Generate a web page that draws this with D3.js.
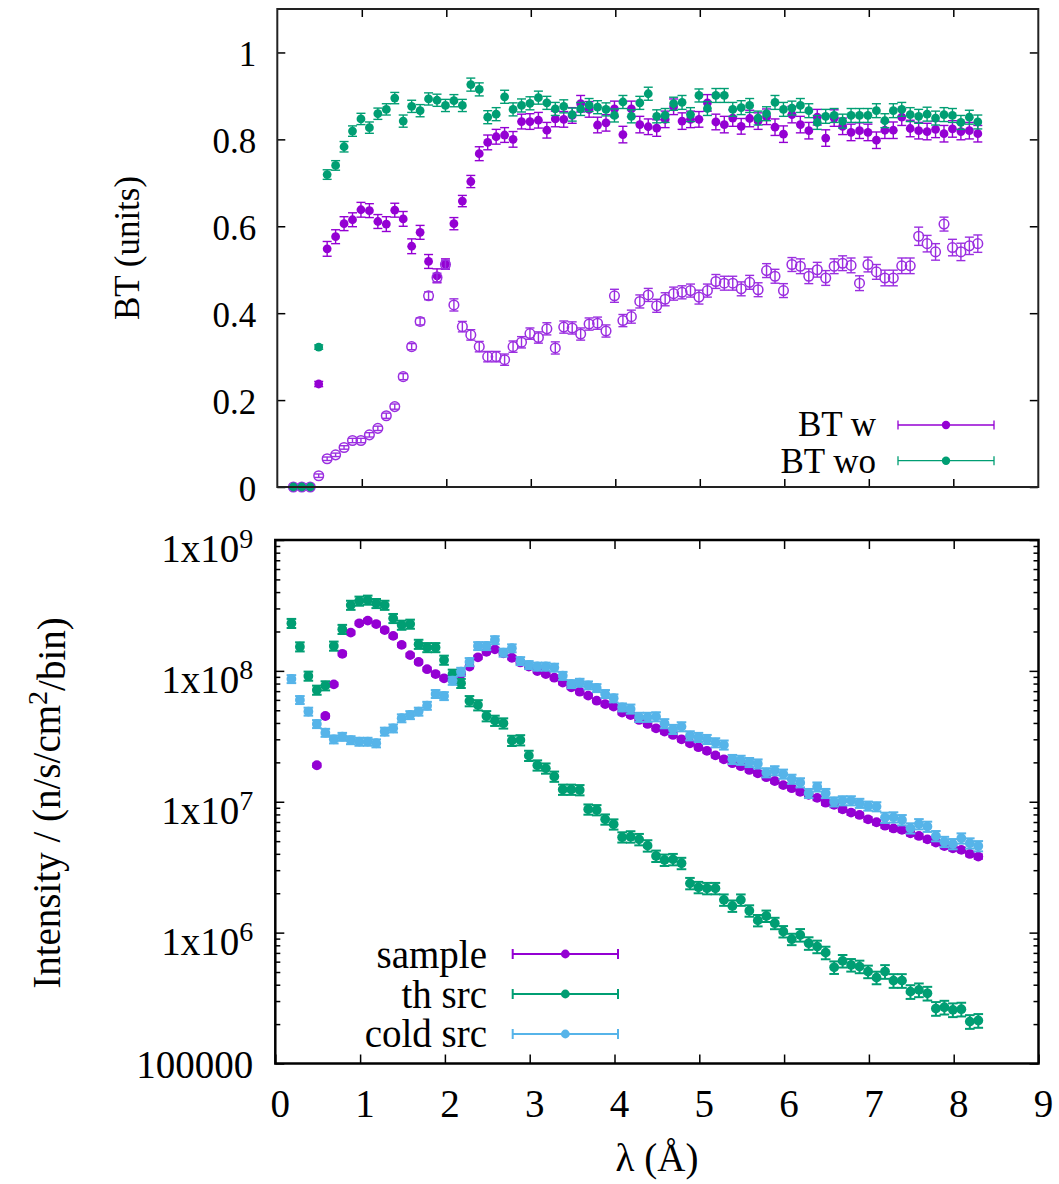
<!DOCTYPE html>
<html><head><meta charset="utf-8">
<script src="https://cdn.jsdelivr.net/npm/d3@7"></script>
<style>
body{margin:0;background:#fff}
svg{display:block}
text{font-family:"Liberation Serif","Times New Roman",serif;fill:#000}
</style>
</head><body>
<svg id="c" width="1059" height="1184"></svg>
<script>
// ---------------- DATA ----------------
const lambda = [
 0.19,0.29,0.39,0.49,0.59,0.69,0.79,0.89,0.99,1.09,
 1.19,1.29,1.39,1.49,1.59,1.69,1.79,1.89,1.99,2.09,
 2.19,2.29,2.39,2.49,2.59,2.69,2.79,2.89,2.99,3.09,
 3.19,3.29,3.39,3.49,3.59,3.69,3.79,3.89,3.99,4.09,
 4.19,4.29,4.39,4.49,4.59,4.69,4.79,4.89,4.99,5.09,
 5.19,5.29,5.39,5.49,5.59,5.69,5.79,5.89,5.99,6.09,
 6.19,6.29,6.39,6.49,6.59,6.69,6.79,6.89,6.99,7.09,
 7.19,7.29,7.39,7.49,7.59,7.69,7.79,7.89,7.99,8.09,
 8.19,8.29];

// Top panel: BT with (filled), BT with (open circles, untitled), BT without
const btW = [
 0,0,0,0.237,0.548,0.576,0.606,0.615,0.638,0.636,
 0.611,0.605,0.637,0.617,0.554,0.586,0.519,0.486,0.513,0.606,
 0.658,0.703,0.767,0.793,0.806,0.810,0.800,0.841,0.841,0.844,
 0.821,0.847,0.846,0.855,0.882,0.869,0.833,0.838,0.870,0.811,
 0.870,0.834,0.829,0.826,0.846,0.875,0.842,0.846,0.846,0.884,
 0.840,0.834,0.849,0.830,0.848,0.842,0.852,0.828,0.812,0.857,
 0.834,0.820,0.851,0.803,0.849,0.830,0.816,0.820,0.816,0.798,
 0.821,0.821,0.851,0.825,0.820,0.818,0.823,0.813,0.824,0.818,
 0.820,0.813];
const btWErr = [
 0,0,0,0.006,0.017,0.016,0.016,0.016,0.017,0.016,
 0.016,0.017,0.016,0.017,0.017,0.016,0.016,0.016,0.012,0.014,
 0.013,0.014,0.016,0.017,0.017,0.017,0.018,0.017,0.018,0.018,
 0.018,0.018,0.018,0.018,0.019,0.018,0.018,0.019,0.018,0.019,
 0.018,0.019,0.018,0.019,0.019,0.018,0.019,0.019,0.018,0.019,
 0.018,0.019,0.019,0.018,0.019,0.019,0.018,0.019,0.019,0.019,
 0.019,0.019,0.018,0.019,0.019,0.019,0.019,0.018,0.019,0.019,
 0.019,0.019,0.019,0.019,0.019,0.019,0.019,0.019,0.019,0.019,
 0.019,0.019];
const btWOpen = [
 0,0,0,0.026,0.065,0.074,0.091,0.107,0.107,0.120,
 0.135,0.164,0.185,0.254,0.323,0.381,0.440,0.482,0.512,0.419,
 0.369,0.350,0.323,0.300,0.300,0.293,0.323,0.333,0.353,0.344,
 0.364,0.320,0.368,0.366,0.352,0.375,0.377,0.359,0.440,0.383,
 0.392,0.427,0.442,0.417,0.432,0.445,0.448,0.452,0.437,0.452,
 0.473,0.469,0.469,0.456,0.471,0.454,0.498,0.485,0.452,0.512,
 0.508,0.485,0.500,0.481,0.508,0.515,0.510,0.469,0.512,0.495,
 0.481,0.481,0.509,0.509,0.577,0.560,0.541,0.605,0.551,0.541,
 0.555,0.560];
const btWOpenErr = [
 0,0,0,0.004,0.004,0.004,0.004,0.005,0.005,0.005,
 0.005,0.006,0.006,0.007,0.007,0.008,0.009,0.010,0.010,0.014,
 0.012,0.012,0.012,0.012,0.012,0.013,0.013,0.013,0.013,0.013,
 0.014,0.014,0.014,0.014,0.014,0.014,0.014,0.014,0.015,0.014,
 0.015,0.015,0.015,0.015,0.015,0.015,0.015,0.015,0.016,0.015,
 0.016,0.016,0.016,0.016,0.016,0.016,0.016,0.016,0.016,0.016,
 0.017,0.017,0.017,0.017,0.017,0.017,0.017,0.017,0.017,0.017,
 0.018,0.018,0.018,0.018,0.021,0.019,0.019,0.016,0.019,0.020,
 0.020,0.020];
const btWO = [
 0,0,0,0.322,0.719,0.740,0.783,0.819,0.847,0.827,
 0.859,0.869,0.895,0.842,0.876,0.866,0.893,0.890,0.878,0.889,
 0.878,0.926,0.915,0.851,0.858,0.898,0.869,0.878,0.883,0.896,
 0.884,0.870,0.876,0.857,0.870,0.879,0.874,0.869,0.855,0.886,
 0.853,0.884,0.905,0.853,0.855,0.882,0.885,0.857,0.901,0.871,
 0.901,0.901,0.869,0.873,0.878,0.849,0.859,0.885,0.869,0.872,
 0.878,0.866,0.839,0.853,0.855,0.842,0.855,0.855,0.855,0.866,
 0.843,0.866,0.869,0.857,0.853,0.858,0.849,0.857,0.855,0.839,
 0.851,0.840];
const btWOErr = [
 0,0,0,0.005,0.011,0.011,0.012,0.012,0.013,0.013,
 0.013,0.013,0.013,0.014,0.014,0.014,0.014,0.014,0.014,0.014,
 0.014,0.015,0.015,0.015,0.015,0.015,0.015,0.015,0.015,0.015,
 0.015,0.015,0.015,0.015,0.015,0.015,0.015,0.015,0.015,0.015,
 0.015,0.015,0.015,0.015,0.016,0.015,0.016,0.016,0.015,0.016,
 0.016,0.016,0.016,0.016,0.016,0.016,0.016,0.016,0.016,0.016,
 0.016,0.016,0.016,0.016,0.016,0.016,0.016,0.016,0.016,0.016,
 0.016,0.016,0.016,0.016,0.016,0.016,0.016,0.016,0.016,0.016,
 0.016,0.016];

// Bottom panel: intensities (n/s/cm^2/bin)
const sample = [
 null,null,null,1.90e7,4.52e7,7.89e7,1.35e8,1.96e8,2.31e8,2.42e8,
 2.28e8,2.05e8,1.85e8,1.58e8,1.32e8,1.17e8,1.03e8,9.46e7,8.77e7,8.95e7,
 9.46e7,1.08e8,1.27e8,1.40e8,1.46e8,1.36e8,1.26e8,1.16e8,1.08e8,9.98e7,
 9.46e7,8.87e7,8.13e7,7.50e7,6.93e7,6.47e7,5.92e7,5.58e7,5.33e7,4.80e7,
 4.60e7,4.22e7,3.93e7,3.64e7,3.44e7,3.24e7,3.00e7,2.80e7,2.61e7,2.45e7,
 2.26e7,2.11e7,1.97e7,1.87e7,1.75e7,1.65e7,1.54e7,1.44e7,1.34e7,1.27e7,
 1.19e7,1.13e7,1.07e7,9.84e6,9.46e6,8.75e6,8.26e6,7.93e6,7.34e6,6.97e6,
 6.56e6,6.25e6,6.10e6,5.74e6,5.48e6,5.16e6,4.88e6,4.59e6,4.41e6,4.29e6,
 3.99e6,3.81e6];
const sampleRelErr = [
 0,0,0,0.03,0.03,0.03,0.03,0.03,0.03,0.03,
 0.03,0.03,0.03,0.03,0.03,0.03,0.03,0.03,0.03,0.03,
 0.03,0.03,0.03,0.03,0.03,0.03,0.03,0.03,0.03,0.03,
 0.03,0.03,0.03,0.03,0.03,0.03,0.03,0.03,0.03,0.03,
 0.035,0.035,0.035,0.035,0.035,0.035,0.035,0.035,0.035,0.035,
 0.035,0.035,0.035,0.035,0.035,0.035,0.035,0.035,0.035,0.035,
 0.04,0.04,0.04,0.04,0.04,0.04,0.04,0.04,0.04,0.04,
 0.04,0.04,0.04,0.04,0.04,0.04,0.04,0.04,0.04,0.04,
 0.04,0.04];
const thSrc = [
 2.31e8,1.53e8,9.14e7,7.14e7,7.71e7,1.55e8,2.08e8,3.18e8,3.42e8,3.48e8,
 3.28e8,3.18e8,2.52e8,2.24e8,2.28e8,1.60e8,1.51e8,1.51e8,1.21e8,9.46e7,
 8.04e7,5.89e7,5.48e7,4.52e7,4.17e7,3.98e7,2.93e7,2.96e7,2.25e7,1.90e7,
 1.80e7,1.56e7,1.24e7,1.24e7,1.23e7,8.75e6,8.65e6,7.34e6,6.73e6,5.36e6,
 5.41e6,5.16e6,4.62e6,3.85e6,3.59e6,3.63e6,3.39e6,2.38e6,2.22e6,2.18e6,
 2.18e6,1.78e6,1.60e6,1.78e6,1.47e6,1.24e6,1.34e6,1.18e6,1.02e6,8.91e5,
 9.59e5,8.30e5,7.82e5,7.03e5,5.43e5,6.08e5,5.66e5,5.50e5,5.04e5,4.53e5,
 5.04e5,4.30e5,4.30e5,3.54e5,3.65e5,3.44e5,2.63e5,2.69e5,2.57e5,2.60e5,
 2.09e5,2.13e5];
const thRelErr = [
 0.08,0.08,0.08,0.08,0.08,0.08,0.08,0.08,0.08,0.08,
 0.08,0.08,0.08,0.08,0.08,0.08,0.08,0.08,0.08,0.08,
 0.08,0.09,0.09,0.09,0.09,0.09,0.09,0.09,0.09,0.09,
 0.09,0.09,0.09,0.09,0.09,0.09,0.09,0.09,0.09,0.09,
 0.10,0.10,0.10,0.10,0.10,0.10,0.10,0.10,0.10,0.10,
 0.10,0.10,0.10,0.10,0.10,0.10,0.10,0.10,0.10,0.10,
 0.11,0.11,0.11,0.11,0.11,0.11,0.11,0.11,0.11,0.11,
 0.12,0.12,0.12,0.12,0.12,0.12,0.12,0.12,0.12,0.12,
 0.12,0.12];
const coldSrc = [
 8.67e7,6.00e7,4.89e7,3.93e7,3.37e7,3.00e7,3.14e7,2.96e7,2.88e7,2.88e7,
 2.80e7,3.44e7,3.64e7,4.35e7,4.60e7,4.89e7,5.42e7,6.67e7,6.43e7,8.41e7,
 9.86e7,1.17e8,1.55e8,1.55e8,1.72e8,1.38e8,1.49e8,1.19e8,1.11e8,1.08e8,
 1.08e8,1.06e8,9.18e7,7.94e7,8.13e7,7.76e7,7.40e7,6.67e7,6.18e7,5.27e7,
 5.12e7,4.43e7,4.43e7,4.47e7,3.96e7,3.58e7,3.75e7,3.20e7,3.11e7,3.00e7,
 2.83e7,2.72e7,2.11e7,2.08e7,2.00e7,1.95e7,1.67e7,1.73e7,1.63e7,1.49e7,
 1.40e7,1.16e7,1.30e7,1.16e7,1.00e7,1.02e7,1.02e7,9.75e6,9.29e6,9.18e6,
 7.57e6,7.62e6,7.26e6,6.28e6,6.76e6,6.46e6,5.48e6,4.95e6,4.76e6,5.26e6,
 4.82e6,4.59e6];
const coldRelErr = [
 0.07,0.07,0.07,0.07,0.07,0.07,0.07,0.07,0.07,0.07,
 0.07,0.07,0.07,0.07,0.07,0.07,0.07,0.07,0.07,0.07,
 0.07,0.07,0.07,0.07,0.07,0.07,0.07,0.07,0.07,0.07,
 0.07,0.07,0.07,0.07,0.07,0.07,0.07,0.07,0.07,0.07,
 0.08,0.08,0.08,0.08,0.08,0.08,0.08,0.08,0.08,0.08,
 0.08,0.08,0.08,0.08,0.08,0.08,0.08,0.08,0.08,0.08,
 0.08,0.08,0.08,0.08,0.08,0.08,0.08,0.08,0.08,0.08,
 0.09,0.09,0.09,0.09,0.09,0.09,0.09,0.09,0.09,0.09,
 0.09,0.09];

const xTicks = [0,1,2,3,4,5,6,7,8,9];
const yTopTicks = [0,0.2,0.4,0.6,0.8,1];
const yBotTicks = [1e5,1e6,1e7,1e8,1e9];
const yBotLabels = [["100000",""],["1x10","6"],["1x10","7"],["1x10","8"],["1x10","9"]];
const legendTop = ["BT w","BT wo"];
const legendBot = ["sample","th src","cold src"];
const xLabel = "λ (Å)";
const yLabelTop = "BT (units)";

// ---------------- DRAW ----------------
const PURPLE="#9400d3", GREEN="#009e73", BLUE="#56b4e9", OPEN="#9b2ee0";
const FONT = "Liberation Serif, Times New Roman, serif";
const svg = d3.select("#c");
svg.append("rect").attr("width",1059).attr("height",1184).attr("fill","#fff");

const xT = d3.scaleLinear().domain([0,9]).range([277.3,1037.8]);
const yT = d3.scaleLinear().domain([0,1.1]).range([487,9]);
const xB = d3.scaleLinear().domain([0,9]).range([275.3,1038.5]);
const yB = d3.scaleLog().domain([1e5,1e9]).range([1063.5,540]);

function styleAxis(g, fs){
  g.attr("font-size",fs).attr("font-family",FONT);
  g.select(".domain").remove();
  g.selectAll(".tick line").attr("stroke","#000").attr("stroke-width",1.5);
  g.selectAll(".tick text").attr("fill","#000");
}

// ---- Top panel axes
const gT = svg.append("g");
gT.append("g").attr("transform",`translate(${xT.range()[0]},0)`)
  .call(d3.axisLeft(yT).tickValues(yTopTicks).tickSize(-8).tickPadding(21).tickFormat(d3.format("~g")))
  .call(styleAxis,35)
  .call(g=>g.selectAll(".tick text").attr("dy","0.38em"));
gT.append("g").attr("transform",`translate(${xT.range()[1]},0)`)
  .call(d3.axisRight(yT).tickValues(yTopTicks).tickSize(-8).tickFormat(()=>""))
  .call(styleAxis,35);
gT.append("g").attr("transform",`translate(0,${yT.range()[0]})`)
  .call(d3.axisBottom(xT).tickValues(xTicks.slice(1,9)).tickSize(-8).tickFormat(()=>""))
  .call(styleAxis,35);
gT.append("g").attr("transform",`translate(0,${yT.range()[1]})`)
  .call(d3.axisTop(xT).tickValues(xTicks.slice(1,9)).tickSize(-8).tickFormat(()=>""))
  .call(styleAxis,35);

// ---- Bottom panel axes
const minorB = [];
for (let i=0;i<yBotTicks.length-1;i++) for (let k=2;k<=9;k++) minorB.push(yBotTicks[i]*k);
const gB = svg.append("g");
gB.append("g").attr("transform",`translate(${xB.range()[0]},0)`)
  .call(d3.axisLeft(yB).tickValues(yBotTicks).tickSize(-9).tickPadding(22).tickFormat(()=>""))
  .call(styleAxis,39)
  .call(g=>g.selectAll(".tick text").each(function(d,i){
      const lab = yBotLabels[i];
      const t = d3.select(this).text(null).attr("dy", lab[1] ? "0.55em" : "0.36em");
      t.append("tspan").text(lab[0]);
      if (lab[1]) t.append("tspan").attr("dy","-0.5em").attr("font-size","0.72em").text(lab[1]);
  }));
gB.append("g").attr("transform",`translate(${xB.range()[0]},0)`)
  .call(d3.axisLeft(yB).tickValues(minorB).tickSize(-5).tickFormat(()=>""))
  .call(styleAxis,39);
gB.append("g").attr("transform",`translate(${xB.range()[1]},0)`)
  .call(d3.axisRight(yB).tickValues(yBotTicks).tickSize(-9).tickFormat(()=>""))
  .call(styleAxis,39);
gB.append("g").attr("transform",`translate(${xB.range()[1]},0)`)
  .call(d3.axisRight(yB).tickValues(minorB).tickSize(-5).tickFormat(()=>""))
  .call(styleAxis,39);
gB.append("g").attr("transform",`translate(0,${yB.range()[0]})`)
  .call(d3.axisBottom(xB).tickValues(xTicks).tickSize(-9).tickPadding(26).tickFormat(d3.format("d")))
  .call(styleAxis,39)
  .call(g=>g.selectAll(".tick text").attr("x",4.5));
gB.append("g").attr("transform",`translate(0,${yB.range()[1]})`)
  .call(d3.axisTop(xB).tickValues(xTicks.slice(1,9)).tickSize(-9).tickFormat(()=>""))
  .call(styleAxis,39);

// ---- Series drawing
function drawSeries(g, xs, ys, ylo, yhi, xScale, yScale, color, filled, r, capHalf, lw){
  const s = g.append("g");
  xs.forEach((x,i)=>{
    const v = ys[i];
    if (v===null || v===undefined) return;
    const cx = xScale(x), cy = yScale(v);
    const lo = ylo[i], hi = yhi[i];
    if (lo !== hi){
      const y1 = yScale(lo), y2 = yScale(hi);
      s.append("line").attr("x1",cx).attr("x2",cx).attr("y1",y1).attr("y2",y2)
        .attr("stroke",color).attr("stroke-width",lw);
      [y1,y2].forEach(yy=>s.append("line").attr("x1",cx-capHalf).attr("x2",cx+capHalf)
        .attr("y1",yy).attr("y2",yy).attr("stroke",color).attr("stroke-width",lw));
    }
    if (filled) s.append("circle").attr("cx",cx).attr("cy",cy).attr("r",r).attr("fill",color);
    else s.append("circle").attr("cx",cx).attr("cy",cy).attr("r",r).attr("fill","none")
        .attr("stroke",color).attr("stroke-width",1.5);
  });
}

// top panel data
drawSeries(gT, lambda, btW, btW.map((v,i)=>v-btWErr[i]), btW.map((v,i)=>v+btWErr[i]), xT, yT, PURPLE, true, 4.4, 4.5, 1.4);
drawSeries(gT, lambda, btWOpen, btWOpen.map((v,i)=>v-btWOpenErr[i]), btWOpen.map((v,i)=>v+btWOpenErr[i]), xT, yT, OPEN, false, 4.8, 4.5, 1.4);
drawSeries(gT, lambda, btWO, btWO.map((v,i)=>v-btWOErr[i]), btWO.map((v,i)=>v+btWOErr[i]), xT, yT, GREEN, true, 4.4, 4.5, 1.4);

// bottom panel data
drawSeries(gB, lambda, sample, sample.map((v,i)=>v===null?null:v*(1-sampleRelErr[i])), sample.map((v,i)=>v===null?null:v*(1+sampleRelErr[i])), xB, yB, PURPLE, true, 4.9, 4.5, 2);
drawSeries(gB, lambda, thSrc, thSrc.map((v,i)=>v*(1-thRelErr[i])), thSrc.map((v,i)=>v*(1+thRelErr[i])), xB, yB, GREEN, true, 4.9, 4.8, 2);
drawSeries(gB, lambda, coldSrc, coldSrc.map((v,i)=>v*(1-coldRelErr[i])), coldSrc.map((v,i)=>v*(1+coldRelErr[i])), xB, yB, BLUE, true, 4.9, 4.8, 2);

// frames
svg.append("rect").attr("x",xT.range()[0]).attr("y",yT.range()[1])
  .attr("width",xT.range()[1]-xT.range()[0]+0.5).attr("height",yT.range()[0]-yT.range()[1])
  .attr("fill","none").attr("stroke","#222").attr("stroke-width",2);
svg.append("rect").attr("x",xB.range()[0]).attr("y",yB.range()[1])
  .attr("width",xB.range()[1]-xB.range()[0]).attr("height",yB.range()[0]-yB.range()[1])
  .attr("fill","none").attr("stroke","#000").attr("stroke-width",2.5);

// legends
function legendRow(g, label, color, tx, ty, x1, x2, ly, fs, r, capHalf, lw){
  g.append("text").attr("x",tx).attr("y",ty).attr("text-anchor","end")
    .attr("font-size",fs).attr("font-family",FONT).text(label);
  g.append("line").attr("x1",x1).attr("x2",x2).attr("y1",ly).attr("y2",ly).attr("stroke",color).attr("stroke-width",lw);
  [x1,x2].forEach(xx=>g.append("line").attr("x1",xx).attr("x2",xx).attr("y1",ly-capHalf).attr("y2",ly+capHalf)
    .attr("stroke",color).attr("stroke-width",lw));
  g.append("circle").attr("cx",(x1+x2)/2).attr("cy",ly).attr("r",r).attr("fill",color);
}
const lgT = svg.append("g");
legendRow(lgT, legendTop[0], PURPLE, 876, 436, 898, 994, 425, 35, 4.2, 4.5, 1.3);
legendRow(lgT, legendTop[1], GREEN, 876, 472.5, 898, 994, 460.7, 35, 4.2, 4.5, 1.3);
const lgB = svg.append("g");
legendRow(lgB, legendBot[0], PURPLE, 487, 968, 512.7, 618, 954, 39, 4.4, 5, 2);
legendRow(lgB, legendBot[1], GREEN, 487, 1008, 512.7, 618, 994, 39, 4.4, 5, 2);
legendRow(lgB, legendBot[2], BLUE, 487, 1047, 512.7, 618, 1034, 39, 4.4, 5, 2);

// axis titles
svg.append("text").attr("transform","translate(139,248) rotate(-90)").attr("text-anchor","middle")
  .attr("font-size",35).attr("font-family",FONT).text(yLabelTop);
const yl = svg.append("text").attr("transform","translate(60,803) rotate(-90)").attr("text-anchor","middle")
  .attr("font-size",39).attr("font-family",FONT);
yl.append("tspan").text("Intensity / (n/s/cm");
yl.append("tspan").attr("dy","-0.45em").attr("font-size","0.72em").text("2");
yl.append("tspan").attr("dy","0.45em").text("/bin)");
svg.append("text").attr("x",657).attr("y",1171).attr("text-anchor","middle")
  .attr("font-size",39).attr("font-family",FONT).text(xLabel);
</script>
</body></html>
